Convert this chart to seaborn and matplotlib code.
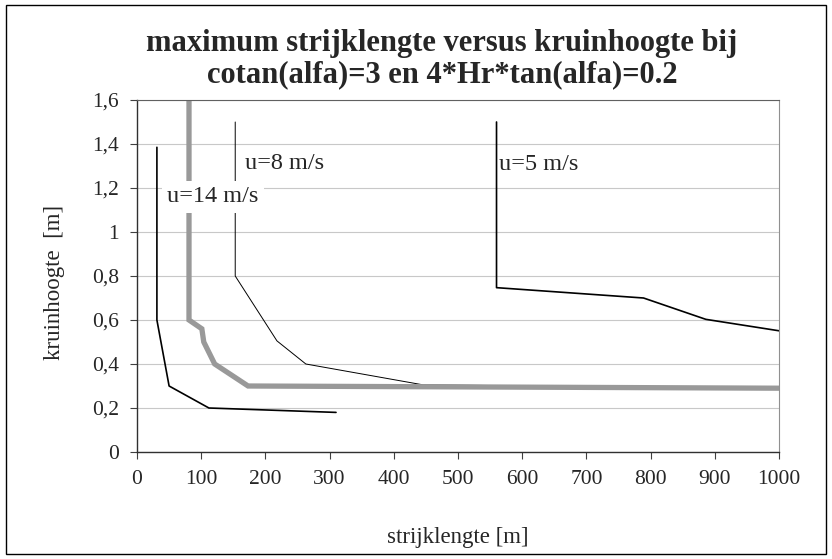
import numpy as np
import pandas as pd
import seaborn as sns
import matplotlib.pyplot as plt
from matplotlib.ticker import FuncFormatter
from matplotlib.patches import Rectangle

# series: x = strijklengte [m], y = kruinhoogte [m]
u14_x = [31, 31, 50, 112, 310]
u14_y = [1.385, 0.6, 0.30, 0.20, 0.18]
grey_x = [81, 81, 101, 104, 121, 173, 1000]
grey_y = [1.6, 0.6, 0.56, 0.50, 0.40, 0.30, 0.29]
u8_x = [153, 153, 218, 263, 446, 1000]
u8_y = [1.5, 0.8, 0.505, 0.40, 0.305, 0.29]
u5_x = [560, 560, 789, 886, 1000]
u5_y = [1.5, 0.747, 0.70, 0.603, 0.551]

labels = ["u=14 m/s", "u=8 m/s", "u=5 m/s"]
label_x = [47, 168, 564]
label_y = [1.16, 1.31, 1.305]

x_ticks = list(range(0, 1001, 100))
y_ticks = [0, 0.2, 0.4, 0.6, 0.8, 1.0, 1.2, 1.4, 1.6]

sns.set_style("white")
plt.rcParams['font.family'] = ['Liberation Serif', 'DejaVu Serif']

fig = plt.figure(figsize=(8.32, 5.59), dpi=100)
ax = fig.add_axes([137/832, 1-452/559, 642/832, 352/559])

sns.lineplot(x=u14_x, y=u14_y, sort=False, estimator=None, color="black", lw=1.2, ax=ax)
sns.lineplot(x=u8_x, y=u8_y, sort=False, estimator=None, color="black", lw=0.7, ax=ax)
sns.lineplot(x=u5_x, y=u5_y, sort=False, estimator=None, color="black", lw=1.2, ax=ax, clip_on=False)
sns.lineplot(x=grey_x, y=grey_y, sort=False, estimator=None, color="#999999", lw=3.8,
             solid_capstyle="butt", solid_joinstyle="miter", ax=ax)

for i in range(len(labels)):
    bb = dict(facecolor="white", edgecolor="none", pad=4) if i == 0 else None
    ax.text(label_x[i], label_y[i], labels[i], fontsize=17.5, ha="left", va="center",
            bbox=bb, zorder=5)

ax.set_xlim(0, 1000)
ax.set_ylim(0, 1.6)
ax.set_xticks(x_ticks)
ax.set_yticks(y_ticks)
ax.yaxis.set_major_formatter(FuncFormatter(lambda v, p: f"{v:g}".replace(".", ",")))
ax.grid(axis="y", color="#c8c8c8", lw=0.8)
ax.set_axisbelow(True)
ax.tick_params(axis="both", direction="out", length=5, width=0.8, color="#404040",
               labelsize=15.5, pad=8, bottom=True, left=True)

for s in ["left", "bottom"]:
    ax.spines[s].set_color("#303030")
    ax.spines[s].set_linewidth(1.0)
ax.spines["top"].set_color("#606060")
ax.spines["right"].set_color("#909090")

ax.set_xlabel("strijklengte [m]", fontsize=16.5)
ax.set_ylabel("kruinhoogte  [m]", fontsize=16.5)
ax.xaxis.set_label_coords(0.5, -0.213)
ax.yaxis.set_label_coords(-0.112, 0.483)

fig.text(442/832, 1-59/559, "maximum strijklengte versus kruinhoogte bij\ncotan(alfa)=3 en 4*Hr*tan(alfa)=0.2",
         ha="center", va="center", fontsize=22, fontweight="bold", linespacing=1.12)

fig.patches.append(Rectangle((6/832, 5/559), 820/832, 549/559, transform=fig.transFigure,
                             fill=False, edgecolor="black", lw=1))

fig.savefig("out.png", dpi=100)
